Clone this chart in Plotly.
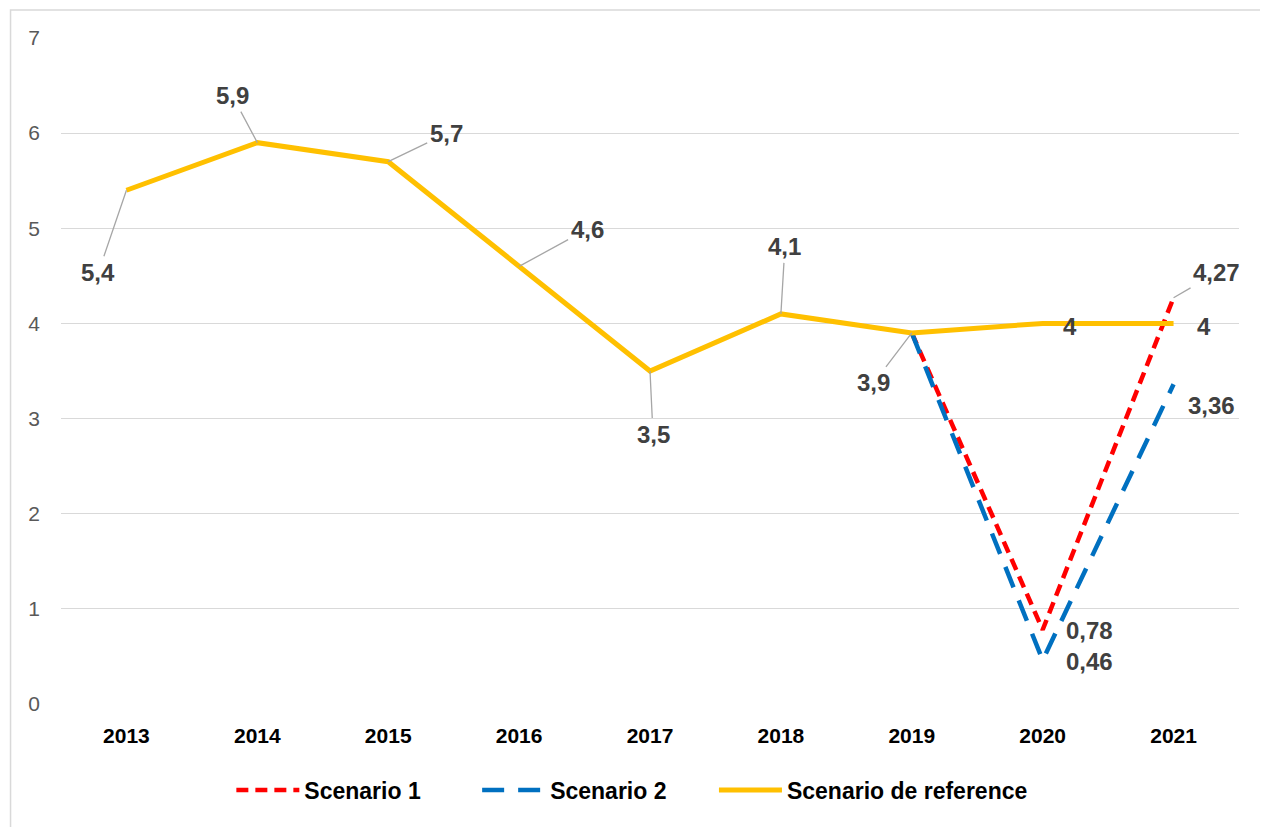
import plotly.graph_objects as go

years = ["2013", "2014", "2015", "2016", "2017", "2018", "2019", "2020", "2021"]
scenario_1 = [None, None, None, None, None, None, 3.9, 0.78, 4.27]
scenario_2 = [None, None, None, None, None, None, 3.9, 0.46, 3.36]
reference = [5.4, 5.9, 5.7, 4.6, 3.5, 4.1, 3.9, 4.0, 4.0]

FONT = "Liberation Sans, Arial, sans-serif"
LABEL_COLOR = "#404040"

# page has an 8px body margin; compensate
OFF = 8
W, H = 1268 - OFF, 827 - OFF
L, T = 60.5 - OFF, 38 - OFF
PW, PH = 1179, 666

fig = go.Figure()
fig.add_trace(go.Scatter(x=years, y=scenario_1, mode="lines", name="Scenario 1",
                         legend="legend",
                         line=dict(color="#FF0000", width=4.5, dash="12px,7px")))
fig.add_trace(go.Scatter(x=years, y=scenario_2, mode="lines", name="Scenario 2",
                         legend="legend2",
                         line=dict(color="#0070C0", width=4.5, dash="22px,14px")))
fig.add_trace(go.Scatter(x=years, y=reference, mode="lines", name="Scenario de reference",
                         legend="legend3",
                         line=dict(color="#FFC000", width=5)))


def fmt(v):
    return ("%g" % v).replace(".", ",")


# (series, index, ax, ay, leader)
label_specs = [
    (reference, 0, -28, 82, True),
    (reference, 1, -25, -47, True),
    (reference, 2, 58, -28, True),
    (reference, 3, 68, -37, True),
    (reference, 4, 3, 63, True),
    (reference, 5, 4, -67, True),
    (reference, 6, -38, 50, True),
    (reference, 7, 27, 3, False),
    (reference, 8, 30, 3, False),
    (scenario_1, 8, 43, -25, True),
    (scenario_2, 8, 38, 21, False),
    (scenario_1, 7, 47, 1, False),
    (scenario_2, 7, 47, 1, False),
]

label_font = dict(family=FONT, size=24, color=LABEL_COLOR, weight="bold")
for series, i, ax, ay, leader in label_specs:
    v = series[i]
    if leader:
        fig.add_annotation(x=i, y=v, xref="x", yref="y", text=fmt(v),
                           showarrow=True, arrowhead=0, arrowwidth=1.3,
                           arrowcolor="#a6a6a6", ax=ax, ay=ay, standoff=0,
                           font=label_font, borderpad=2)
    else:
        fig.add_annotation(x=i, y=v, xref="x", yref="y", text=fmt(v),
                           showarrow=False, xshift=ax, yshift=-ay,
                           font=label_font)

# chart border
fig.add_shape(type="rect", xref="paper", yref="paper",
              x0=(10 - OFF - L) / PW, x1=(1266 - OFF - L) / PW,
              y0=-(H + 5 - T - PH) / PH, y1=1 + (T - (10 - OFF)) / PH,
              line=dict(color="#d9d9d9", width=1.5), layer="below")


def legend_at(px):
    return dict(orientation="h", x=(px - OFF - L) / PW, xanchor="left",
                y=-86 / PH, yanchor="middle",
                font=dict(family=FONT, size=23, color="black", weight="bold"),
                itemwidth=63, bgcolor="rgba(0,0,0,0)")


fig.update_layout(
    width=W, height=H,
    margin=dict(l=L, r=W - L - PW, t=T, b=H - T - PH, autoexpand=False),
    paper_bgcolor="white", plot_bgcolor="white",
    font=dict(family=FONT),
    showlegend=True,
    legend=legend_at(231),
    legend2=legend_at(477),
    legend3=legend_at(714),
    xaxis=dict(type="category", range=[-0.5, 8.5], showgrid=False, zeroline=False,
               showline=False, ticks="", ticklabelstandoff=17,
               tickfont=dict(family=FONT, size=21, color="black", weight="bold")),
    yaxis=dict(range=[0, 7], dtick=1, showgrid=True, gridcolor="#d9d9d9", gridwidth=1.3,
               zeroline=False, showline=False, ticks="", ticklabelstandoff=20,
               tickfont=dict(family=FONT, size=21, color="#595959")),
)

fig.write_html("out.html")
